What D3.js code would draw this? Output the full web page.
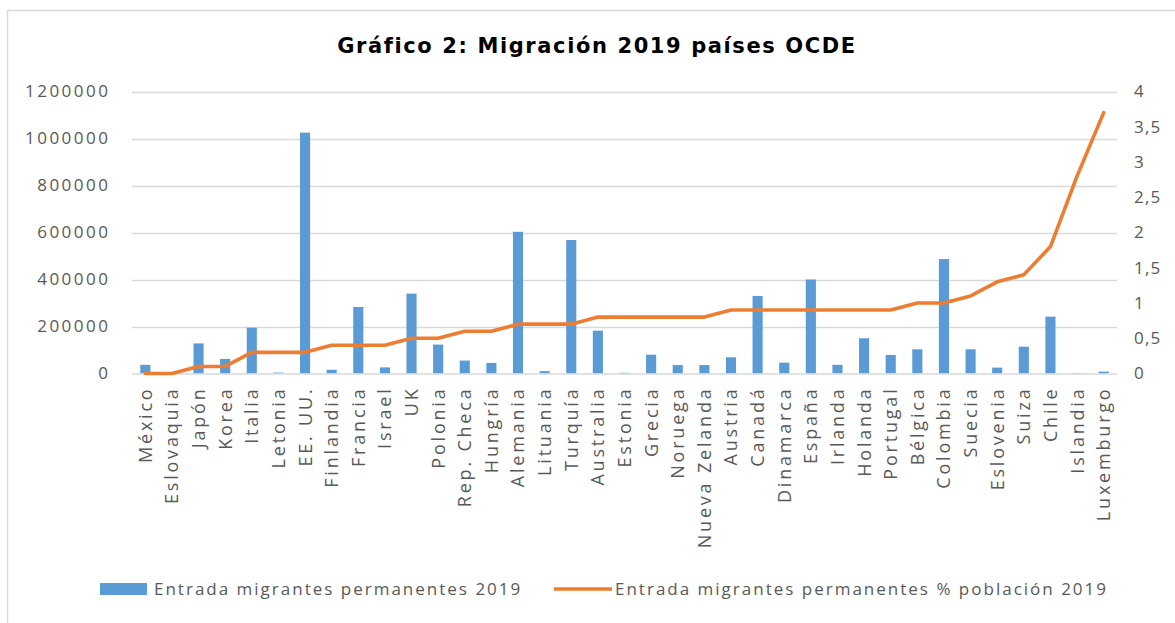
<!DOCTYPE html>
<html>
<head>
<meta charset="utf-8">
<script src="https://cdn.jsdelivr.net/npm/d3@7/dist/d3.min.js"></script>
<style>
  body { margin: 0; background: #ffffff; }
  svg { display: block; }
  text { font-family: "Open Sans", "DejaVu Sans", sans-serif; }
</style>
</head>
<body>
<svg id="chart" width="1175" height="623"></svg>
<script>
// Países OCDE, ordenados por entrada de migrantes permanentes como % de la población
const categories = [
  "México", "Eslovaquia", "Japón", "Korea", "Italia", "Letonia", "EE. UU.",
  "Finlandia", "Francia", "Israel", "UK", "Polonia", "Rep. Checa", "Hungría",
  "Alemania", "Lituania", "Turquía", "Australia", "Estonia", "Grecia", "Noruega",
  "Nueva Zelanda", "Austria", "Canadá", "Dinamarca", "España", "Irlanda",
  "Holanda", "Portugal", "Bélgica", "Colombia", "Suecia", "Eslovenia", "Suiza",
  "Chile", "Islandia", "Luxemburgo"
];

// Entrada de migrantes permanentes 2019 (personas)
const entradas = [
  37000, 3000, 128000, 62000, 195000, 4000, 1025000,
  16000, 283000, 26000, 340000, 123000, 55000, 45000,
  603000, 10000, 568000, 182000, 3000, 80000, 36000,
  36000, 69000, 330000, 46000, 400000, 37000,
  150000, 79000, 103000, 487000, 103000, 25000, 114000,
  242000, 2000, 8000
];

// Entrada de migrantes permanentes 2019 (% de la población)
const porcentaje = [
  0.0, 0.0, 0.1, 0.1, 0.3, 0.3, 0.3,
  0.4, 0.4, 0.4, 0.5, 0.5, 0.6, 0.6,
  0.7, 0.7, 0.7, 0.8, 0.8, 0.8, 0.8,
  0.8, 0.9, 0.9, 0.9, 0.9, 0.9,
  0.9, 0.9, 1.0, 1.0, 1.1, 1.3, 1.4,
  1.8, 2.8, 3.7
];

const leftTicks = [0, 200000, 400000, 600000, 800000, 1000000, 1200000];
const rightTicks = [0, 0.5, 1, 1.5, 2, 2.5, 3, 3.5, 4];

const titleText = "Gráfico 2: Migración 2019 países OCDE";
const legendBars = "Entrada migrantes permanentes 2019";
const legendLine = "Entrada migrantes permanentes % población 2019";

const svg = d3.select("#chart");
const W = 1175, H = 623;
const plot = { left: 132, right: 1117, top: 91.5, bottom: 373.5 };

const textGrey = "#595959";
const gridGrey = "#d9d9d9";
const barBlue = "#5b9bd5";
const lineOrange = "#ed7d31";

const esLocale = d3.formatLocale({ decimal: ",", thousands: ".", grouping: [3], currency: ["", "€"] });
const fmtRight = esLocale.format("~g");

// Fondo y marco del gráfico
svg.append("rect").attr("x", 0).attr("y", 0).attr("width", W).attr("height", H).attr("fill", "#ffffff");
svg.append("rect")
  .attr("x", 7.5).attr("y", 10.5)
  .attr("width", W + 20).attr("height", H + 20)
  .attr("fill", "none").attr("stroke", "#d9d9d9").attr("stroke-width", 1.5);

// Escalas
const x = d3.scaleBand()
  .domain(categories)
  .range([plot.left, plot.right])
  .paddingInner(0.62)
  .paddingOuter(0.31);

const yLeft = d3.scaleLinear().domain([0, 1200000]).range([plot.bottom, plot.top]);
const yRight = d3.scaleLinear().domain([0, 4]).range([plot.bottom, plot.top]);

// Líneas de cuadrícula (eje principal)
svg.append("g")
  .selectAll("line")
  .data(leftTicks.filter(d => d > 0))
  .join("line")
  .attr("x1", plot.left).attr("x2", plot.right)
  .attr("y1", d => Math.round(yLeft(d)) + 0.5)
  .attr("y2", d => Math.round(yLeft(d)) + 0.5)
  .attr("stroke", gridGrey).attr("stroke-width", 1.3);

// Eje izquierdo
const axisLeft = svg.append("g")
  .attr("transform", `translate(${plot.left - 21.5},0)`)
  .call(d3.axisLeft(yLeft).tickValues(leftTicks).tickFormat(d3.format("d")).tickSize(0).tickPadding(0));
axisLeft.select(".domain").remove();
axisLeft.selectAll("text")
  .attr("fill", textGrey)
  .style("font-size", "17px")
  .style("letter-spacing", "2.5px")
  .style("font-family", "'Open Sans', sans-serif");

// Eje derecho
const axisRight = svg.append("g")
  .attr("transform", `translate(${plot.right + 17},0)`)
  .call(d3.axisRight(yRight).tickValues(rightTicks).tickFormat(fmtRight).tickSize(0).tickPadding(0));
axisRight.select(".domain").remove();
axisRight.selectAll("text")
  .attr("fill", textGrey)
  .style("font-size", "17px")
  .style("letter-spacing", "1.2px")
  .style("font-family", "'Open Sans', sans-serif");

// Barras
svg.append("g")
  .selectAll("rect")
  .data(categories.map((c, i) => ({ c, v: entradas[i] })))
  .join("rect")
  .attr("x", d => x(d.c))
  .attr("width", x.bandwidth())
  .attr("y", d => yLeft(d.v))
  .attr("height", d => yLeft(0) - yLeft(d.v))
  .attr("fill", barBlue);

// Línea base del eje de categorías
svg.append("line")
  .attr("x1", plot.left).attr("x2", plot.right)
  .attr("y1", plot.bottom + 0.5).attr("y2", plot.bottom + 0.5)
  .attr("stroke", gridGrey).attr("stroke-width", 1.3);

// Eje de categorías
const axisBottom = svg.append("g")
  .attr("transform", `translate(0,${plot.bottom})`)
  .call(d3.axisBottom(x).tickSize(0).tickPadding(0));
axisBottom.select(".domain").remove();
axisBottom.selectAll("text")
  .attr("fill", textGrey)
  .attr("text-anchor", "end")
  .attr("transform", "rotate(-90)")
  .attr("x", -13)
  .attr("y", 0)
  .attr("dy", "0.36em")
  .style("font-size", "18px")
  .style("letter-spacing", "2.8px")
  .style("font-family", "'Open Sans', sans-serif");

// Línea del porcentaje sobre la población
const line = d3.line()
  .x((d, i) => x(categories[i]) + x.bandwidth() / 2)
  .y(d => yRight(d));

svg.append("path")
  .datum(porcentaje)
  .attr("d", line)
  .attr("fill", "none")
  .attr("stroke", lineOrange)
  .attr("stroke-width", 3.6)
  .attr("stroke-linejoin", "round")
  .attr("stroke-linecap", "round");

// Título
svg.append("text")
  .attr("x", 597).attr("y", 53)
  .attr("text-anchor", "middle")
  .attr("fill", "#000000")
  .style("font-family", "'DejaVu Sans', sans-serif")
  .style("font-weight", "bold")
  .style("font-size", "21px")
  .style("letter-spacing", "1.6px")
  .text(titleText);

// Leyenda
const legend = svg.append("g");
legend.append("rect")
  .attr("x", 100).attr("y", 583).attr("width", 47).attr("height", 12)
  .attr("fill", barBlue);
legend.append("text")
  .attr("x", 154).attr("y", 589).attr("dy", "0.35em")
  .attr("fill", textGrey)
  .style("font-size", "17px")
  .style("letter-spacing", "2px")
  .text(legendBars);
legend.append("line")
  .attr("x1", 554).attr("x2", 612).attr("y1", 589).attr("y2", 589)
  .attr("stroke", lineOrange).attr("stroke-width", 3.6);
legend.append("text")
  .attr("x", 615).attr("y", 589).attr("dy", "0.35em")
  .attr("fill", textGrey)
  .style("font-size", "17px")
  .style("letter-spacing", "2px")
  .text(legendLine);
</script>
</body>
</html>
